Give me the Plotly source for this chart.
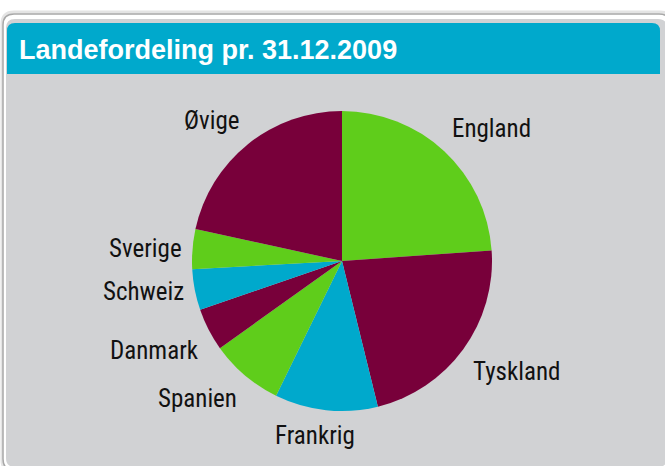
import math
import plotly.graph_objects as go

# ---- data ----
labels = ["England", "Tyskland", "Frankrig", "Spanien", "Danmark", "Schweiz", "Sverige", "Øvige"]
values = [23.9, 22.3, 11.1, 7.9, 4.6, 4.4, 4.3, 21.6]
colors = ["#5fcd1b", "#78003a", "#00a9cc", "#5fcd1b", "#78003a", "#00a9cc", "#5fcd1b", "#78003a"]
title_text = "Landefordeling pr. 31.12.2009"

W, H = 665, 466
LABEL_FONT = "Roboto Condensed, Open Sans Condensed, DejaVu Sans Condensed, sans-serif"
TITLE_FONT = "Liberation Sans, Arial, sans-serif"
CX, CY, R = 342, 261, 150


def px(x):
    return x / W


def py(y):
    return 1 - y / H


def rrect(x0, y0, x1, y1, r, top_only=False):
    rb = 0 if top_only else r
    pts = [
        f"M {px(x0 + r)} {py(y0)}",
        f"L {px(x1 - r)} {py(y0)}",
        f"Q {px(x1)} {py(y0)} {px(x1)} {py(y0 + r)}",
        f"L {px(x1)} {py(y1 - rb)}",
        f"Q {px(x1)} {py(y1)} {px(x1 - rb)} {py(y1)}",
        f"L {px(x0 + rb)} {py(y1)}",
        f"Q {px(x0)} {py(y1)} {px(x0)} {py(y1 - rb)}",
        f"L {px(x0)} {py(y0 + r)}",
        f"Q {px(x0)} {py(y0)} {px(x0 + r)} {py(y0)}",
        "Z",
    ]
    return " ".join(pts)


fig = go.Figure()
fig.add_trace(go.Pie(
    labels=labels, values=values, sort=False, direction="clockwise", rotation=0,
    marker=dict(colors=colors, line=dict(width=0)),
    textinfo="none", hoverinfo="label+percent", showlegend=False,
    domain=dict(x=[px(CX - R), px(CX + R)], y=[py(CY + R), py(CY - R)]),
))

shapes = [
    # soft shadow
    dict(type="path", path=rrect(2, 12, 672, 472, 12), xref="paper", yref="paper",
         fillcolor="rgba(0,0,0,0)", line=dict(color="#e4e4e4", width=3), layer="below"),
    # outer frame
    dict(type="path", path=rrect(3, 14, 670, 470, 11), xref="paper", yref="paper",
         fillcolor="#ffffff", line=dict(color="#a8a8a8", width=1.5), layer="below"),
    # panel
    dict(type="path", path=rrect(6, 19, 667, 467, 9), xref="paper", yref="paper",
         fillcolor="#d1d2d4", line=dict(width=0), layer="below"),
    # title bar
    dict(type="path", path=rrect(7, 23, 660, 74, 8, top_only=True), xref="paper", yref="paper",
         fillcolor="#00a9cc", line=dict(width=0), layer="below"),
]

annotations = [dict(
    text=title_text, x=px(17), y=py(50), xref="paper", yref="paper",
    xanchor="left", yanchor="middle", showarrow=False,
    font=dict(family=TITLE_FONT, size=27, color="white", weight="bold"),
)]

# labels placed along each slice's mid-angle
total = sum(values)
cum = 0.0
LR = 159
for lab, v in zip(labels, values):
    mid = (cum + v / 2) / total * 2 * math.pi
    cum += v
    s, c = math.sin(mid), math.cos(mid)
    ax_ = CX + LR * s
    ay_ = CY - LR * c
    xa = "left" if s > 0.3 else ("right" if s < -0.3 else "center")
    ya = "bottom" if c > 0.3 else ("top" if c < -0.3 else "middle")
    xs = s * 90 if xa == "center" else 0
    annotations.append(dict(
        text=lab, x=px(ax_), y=py(ay_), xref="paper", yref="paper",
        xanchor=xa, yanchor=ya, xshift=xs, showarrow=False,
        font=dict(family=LABEL_FONT, size=25, color="#111111"),
    ))

fig.update_layout(
    width=W, height=H, margin=dict(l=0, r=0, t=0, b=0),
    paper_bgcolor="white", plot_bgcolor="white",
    shapes=shapes, annotations=annotations,
)
fig.write_html("out.html", config={"displayModeBar": False},
               post_script="document.body.style.margin='0';")
